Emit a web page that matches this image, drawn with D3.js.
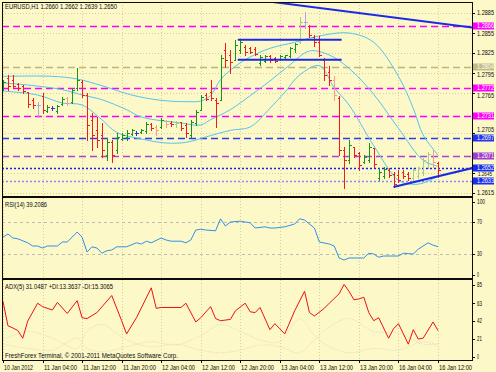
<!DOCTYPE html>
<html>
<head>
<meta charset="utf-8">
<script src="https://cdn.jsdelivr.net/npm/d3@7"></script>
<style>
  body { margin: 0; background: #fdf8c8; }
  svg { display: block; font-family: "Liberation Sans", Arial, sans-serif; }
</style>
</head>
<body>
<div id="chart"></div>
<script>
// EURUSD H1 - bars, bands, RSI(14), ADX(5)

const timeLabels = ["10 Jan 2012", "11 Jan 04:00", "11 Jan 12:00", "11 Jan 20:00", "12 Jan 04:00",
  "12 Jan 12:00", "12 Jan 20:00", "13 Jan 04:00", "13 Jan 12:00", "13 Jan 20:00", "16 Jan 04:00", "16 Jan 12:00"];
const priceTicks = [1.2885, 1.2855, 1.2825, 1.2795, 1.2765, 1.2705, 1.2645, 1.2615];

const levelPrice = [1.2866, 1.2804, 1.2772, 1.2731, 1.2697, 1.2671, 1.2652, 1.2633];
const levelLabel = ["1.2866", "1.2804", "1.2772", "1.2731", "1.2697", "1.2671", "1.2652", "1.2633"];
const levelColor = ["#ff00ff", "#bdb77c", "#ff00ff", "#ff00ff", "#2a3cf0", "#b040d0", "#1020f0", "#8c8cf0"];
const boxColor   = ["#ff00ff", "#c2bc84", "#ff00ff", "#ff00ff", "#2236ee", "#a03ccc", "#1a2cf0", "#1a2cf0"];
const levelDash  = ["7,4", "7,4", "7,4", "7,4", "7,4", "7,4", "2,2", "2,2"];

// OHLC per bar (H1, first bar 10 Jan 20:00)
const open = [1.2771,1.2787,1.2784,1.2778,1.2775,1.2766,1.2754,1.2747,1.2760,1.2738,1.2742,1.2738,1.2748,1.2757,1.2751,1.2772,
  1.2781,1.2762,1.2724,1.2709,1.2702,1.2672,1.2691,1.2679,1.2696,1.2699,1.2703,1.2705,1.2706,1.2708,1.2718,1.2714,
  1.2714,1.2723,1.2720,1.2718,1.2721,1.2717,1.2702,1.2720,1.2739,1.2762,1.2766,1.2754,1.2754,1.2829,1.2822,1.2814,
  1.2829,1.2834,1.2832,1.2831,1.2810,1.2813,1.2820,1.2817,1.2816,1.2819,1.2820,1.2831,1.2841,1.2871,1.2865,1.2849,
  1.2841,1.2814,1.2796,1.2784,1.2757,1.2679,1.2664,1.2684,1.2675,1.2661,1.2664,1.2682,1.2637,1.2640,1.2649,1.2643,
  1.2642,1.2646,1.2643,1.2637,1.2640,1.2646,1.2660,1.2669,1.2660];
const high = [1.2784,1.2792,1.2792,1.2780,1.2777,1.2766,1.2757,1.2751,1.2765,1.2747,1.2745,1.2747,1.2759,1.2759,1.2772,1.2802,
  1.2784,1.2765,1.2735,1.2729,1.2720,1.2697,1.2694,1.2705,1.2705,1.2709,1.2711,1.2708,1.2711,1.2721,1.2720,1.2717,
  1.2727,1.2724,1.2723,1.2723,1.2721,1.2720,1.2724,1.2739,1.2762,1.2765,1.2784,1.2757,1.2822,1.2840,1.2829,1.2844,
  1.2844,1.2837,1.2834,1.2834,1.2822,1.2822,1.2822,1.2819,1.2822,1.2822,1.2834,1.2840,1.2879,1.2886,1.2867,1.2852,
  1.2850,1.2817,1.2805,1.2790,1.2760,1.2684,1.2694,1.2684,1.2676,1.2672,1.2690,1.2682,1.2652,1.2654,1.2652,1.2646,
  1.2649,1.2649,1.2646,1.2652,1.2654,1.2667,1.2676,1.2679,1.2662];
const low = [1.2769,1.2769,1.2772,1.2769,1.2765,1.2744,1.2742,1.2729,1.2735,1.2736,1.2739,1.2735,1.2747,1.2747,1.2750,1.2769,
  1.2759,1.2694,1.2679,1.2684,1.2669,1.2664,1.2661,1.2675,1.2694,1.2694,1.2702,1.2702,1.2705,1.2705,1.2709,1.2702,
  1.2712,1.2714,1.2715,1.2714,1.2709,1.2699,1.2699,1.2717,1.2739,1.2754,1.2754,1.2714,1.2754,1.2804,1.2795,1.2814,
  1.2825,1.2822,1.2825,1.2822,1.2807,1.2811,1.2811,1.2811,1.2814,1.2817,1.2819,1.2826,1.2840,1.2862,1.2849,1.2835,
  1.2820,1.2784,1.2777,1.2754,1.2672,1.2622,1.2660,1.2669,1.2649,1.2660,1.2661,1.2654,1.2634,1.2637,1.2639,1.2624,
  1.2631,1.2637,1.2634,1.2634,1.2637,1.2642,1.2652,1.2654,1.2639];
const close = [1.2781,1.2775,1.2775,1.2772,1.2768,1.2748,1.2747,1.2747,1.2739,1.2744,1.2742,1.2745,1.2756,1.2750,1.2769,1.2784,
  1.2762,1.2717,1.2702,1.2694,1.2679,1.2691,1.2672,1.2699,1.2702,1.2705,1.2709,1.2705,1.2709,1.2718,1.2712,1.2709,
  1.2724,1.2718,1.2718,1.2720,1.2712,1.2705,1.2721,1.2736,1.2759,1.2756,1.2757,1.2750,1.2817,1.2814,1.2811,1.2837,
  1.2841,1.2826,1.2826,1.2823,1.2819,1.2820,1.2814,1.2813,1.2820,1.2822,1.2832,1.2838,1.2871,1.2871,1.2852,1.2841,
  1.2822,1.2792,1.2784,1.2762,1.2679,1.2664,1.2687,1.2672,1.2657,1.2669,1.2684,1.2658,1.2646,1.2651,1.2642,1.2628,
  1.2634,1.2640,1.2637,1.2649,1.2652,1.2664,1.2673,1.2661,1.2650];
const fadedBars = [7, 13, 31, 33, 35, 60, 61, 67, 83, 84, 85, 86, 87];

// Bands: bar index + price at read points
const upBar = [0,10,15,20,26,32,37,40,42,44,47,50,54,59,63,70,75,80,83,85,88];
const upVal = [1.2790,1.2790,1.2786,1.2776,1.2762,1.2754,1.2752,1.2753,1.2761,1.2785,1.2805,1.2819,1.2832,1.2841,1.2849,1.2855,1.2841,1.2790,1.2742,1.2702,1.2672];
const midBar = [0,5,12,16,20,25,28,36,40,42,46,50,54,58,62,66,70,75,80,85,88];
const midVal = [1.2780,1.2777,1.2770,1.2762,1.2755,1.2740,1.2729,1.2720,1.2717,1.2725,1.2740,1.2761,1.2783,1.2807,1.2828,1.2822,1.2802,1.2763,1.2712,1.2664,1.2655];
const lowBar = [0,7,12,16,20,23,28,33,37,41,46,50,54,57,60,64,67,70,75,80,83,85,88];
const lowVal = [1.2768,1.2762,1.2750,1.2747,1.2725,1.2706,1.2696,1.2690,1.2691,1.2699,1.2709,1.2714,1.2742,1.2766,1.2792,1.2806,1.2773,1.2747,1.2686,1.2634,1.2628,1.2630,1.2640];

// RSI(14)
const rsiBar = [0,1,2,3,5,6,7,8,9,11,12,13,15,16,17,18,19,20,21,22,23,25,27,28,29,30,32,33,34,36,37,38,39,40,41,43,44,45,46,48,49,
  50,51,53,54,55,57,59,60,61,63,64,66,67,68,69,70,72,73,74,75,76,77,80,81,83,84,86,87,88];
const rsiVal = [51,55,50,49,44,40,40,37.5,40,40,45,45,57.5,51,32.5,39,37.5,31,34,35,39,39,44,42.5,46,44,50,47.5,46,46,44,47.5,60,61,60,59,74,65,70,71,70,
  69,62.5,64,62.5,62.5,64,67.5,74,72.5,62.5,45,42.5,40,25,22.5,25,25,25,31,30,26,27.5,27.5,31,30,36,44,41,39.2];

// ADX(5), +DI, -DI
const adxBar = [0,1,2,3,4,5,7,8,10,11,13,15,16,17,19,22,24,25,27,30,31,32,36,37,39,40,42,43,44,46,47,49,50,51,52,54,55,56,57,59,61,62,63,65,66,68,69,70,71,72,73,74,75,76,78,79,80,82,83,84,85,87,88];
const adxVal = [65,36.6,34,31,22,42,63,59,55,64,51,66,46,45,52,72,42.5,27,46,81,57,58,58,63,41,46,59,45,42.5,44,54,63,53,52,58,32,39,33,27,54,77,52,48,57,63,74,85,77,67,68,70,52,42.5,46,22,33,39,15,32,21,22,41,31];
const diBar = [0,5,10,15,17,20,25,30,35,40,44,48,52,56,60,63,66,70,75,80,85,88];
const plusDi  = [15,10,8,22,10,6,12,18,14,25,38,30,20,18,45,25,12,5,10,8,18,13.4];
const minusDi = [20,30,22,10,30,38,20,12,15,8,5,8,14,12,5,20,35,45,30,28,15,15.3];

const W = 496, H = 372;
const LEFT = 2, RIGHT = 472;
const MAIN = { top: 2, bottom: 196 };
const RSIP = { top: 198, bottom: 278 };
const ADXP = { top: 280, bottom: 360 };
const INK = "#0c0c0c";

const svg = d3.select("#chart").append("svg").attr("width", W).attr("height", H);
svg.append("rect").attr("width", W).attr("height", H).attr("fill", "#fdf8c8");

const x = d3.scaleLinear().domain([0, 88]).range([3, 438]);
const y = d3.scaleLinear().domain([1.2615, 1.2885]).range([193, 13]);
const yRsi = d3.scaleLinear().domain([0, 100]).range([278, 198]);
const yAdx = d3.scaleLinear().domain([0, 85.5]).range([357, 284]);

svg.append("clipPath").attr("id", "clipMain").append("rect")
  .attr("x", LEFT).attr("y", MAIN.top).attr("width", RIGHT - LEFT).attr("height", MAIN.bottom - MAIN.top);

// grid
const grid = svg.append("g").attr("stroke", "#d6cea0").attr("stroke-dasharray", "1,2");
timeLabels.forEach((t, i) => {
  const gx = Math.round(x(i * 8)) + 0.5;
  [MAIN, RSIP, ADXP].forEach(p => grid.append("line").attr("x1", gx).attr("x2", gx).attr("y1", p.top).attr("y2", p.bottom));
});
priceTicks.forEach(p => {
  const gy = Math.round(y(p)) + 0.5;
  grid.append("line").attr("x1", LEFT).attr("x2", RIGHT).attr("y1", gy).attr("y2", gy);
});

const main = svg.append("g").attr("clip-path", "url(#clipMain)");

levelPrice.forEach((p, i) => {
  const ly = Math.round(y(p)) + 0.5;
  main.append("line").attr("x1", LEFT).attr("x2", RIGHT).attr("y1", ly).attr("y2", ly)
    .attr("stroke", levelColor[i]).attr("stroke-width", 1.3).attr("stroke-dasharray", levelDash[i]);
});

const bandLine = bars => d3.line().x((d, i) => x(bars[i])).y(d => y(d)).curve(d3.curveCatmullRom);
[[upBar, upVal], [midBar, midVal], [lowBar, lowVal]].forEach(([b, v]) => {
  main.append("path").attr("d", bandLine(b)(v)).attr("fill", "none").attr("stroke", "#55c4ee").attr("stroke-width", 1);
});

// bar chart: high-low stick, open tick left, close tick right
const barsG = main.append("g").attr("shape-rendering", "crispEdges");
open.forEach((o, i) => {
  const c = close[i];
  const faded = fadedBars.includes(i);
  let col;
  if (c > o) col = faded ? "#9ed08a" : "#169616";
  else if (c < o) col = faded ? "#f0a090" : "#f21a1a";
  else col = faded ? "#a8a8e8" : "#2830e0";
  const cx = Math.round(x(i)) + 0.5;
  const g = barsG.append("g").attr("stroke", col);
  const yo = Math.round(y(o)) + 0.5, yc = Math.round(y(c)) + 0.5;
  g.append("line").attr("x1", cx).attr("x2", cx).attr("y1", Math.round(y(high[i]))).attr("y2", Math.round(y(low[i])) + 1);
  g.append("line").attr("x1", cx - 2).attr("x2", cx).attr("y1", yo).attr("y2", yo);
  g.append("line").attr("x1", cx).attr("x2", cx + 2).attr("y1", yc).attr("y2", yc);
});

// trend lines (bar index, price)
const trendFrom = [[53, 1.2903], [47.5, 1.2845], [47.5, 1.2815], [79, 1.2624]];
const trendTo   = [[95, 1.2863], [68.5, 1.2845], [68.5, 1.2815], [95, 1.26525]];
trendFrom.forEach((f, i) => {
  main.append("line").attr("x1", x(f[0])).attr("y1", y(f[1])).attr("x2", x(trendTo[i][0])).attr("y2", y(trendTo[i][1]))
    .attr("stroke", "#1a2ae6").attr("stroke-width", 2);
});

// RSI pane
svg.append("g").selectAll("line").data([70, 30]).join("line")
  .attr("x1", LEFT).attr("x2", RIGHT).attr("y1", d => Math.round(yRsi(d)) + 0.5).attr("y2", d => Math.round(yRsi(d)) + 0.5)
  .attr("stroke", "#bcbcb0").attr("stroke-dasharray", "3,3");
svg.append("path").datum(rsiVal)
  .attr("d", d3.line().x((d, i) => x(rsiBar[i])).y(d => yRsi(d)))
  .attr("fill", "none").attr("stroke", "#2e92ea").attr("stroke-width", 1);

// ADX pane
const diLine = d3.line().x((d, i) => x(diBar[i])).y(d => yAdx(d)).curve(d3.curveCatmullRom);
[plusDi, minusDi].forEach(s => {
  svg.append("path").attr("d", diLine(s)).attr("fill", "none")
    .attr("stroke", "#f1e2c2").attr("stroke-width", 1).attr("stroke-dasharray", "2,1");
});
svg.append("path").datum(adxVal)
  .attr("d", d3.line().x((d, i) => x(adxBar[i])).y(d => yAdx(d)))
  .attr("fill", "none").attr("stroke", "#f01010").attr("stroke-width", 1);

// frames
const frame = svg.append("g").attr("fill", "none").attr("stroke", INK);
frame.append("rect").attr("x", LEFT + 0.5).attr("y", MAIN.top + 0.5).attr("width", RIGHT - LEFT).attr("height", ADXP.bottom - MAIN.top);
frame.append("line").attr("x1", LEFT).attr("x2", RIGHT).attr("y1", 197).attr("y2", 197).attr("stroke-width", 2);
frame.append("line").attr("x1", LEFT).attr("x2", RIGHT).attr("y1", 279).attr("y2", 279).attr("stroke-width", 2);

// right axis
const axisText = svg.append("g").attr("font-size", 6.6).attr("fill", INK);
const axisLabel = (ty, txt) => axisText.append("text").attr("x", RIGHT + 5).attr("y", ty + 2.3)
  .attr("textLength", 3 * String(txt).length - 1).attr("lengthAdjust", "spacingAndGlyphs").text(txt);
const levelY = levelPrice.map(p => Math.round(y(p)));
priceTicks.forEach(p => {
  const ty = Math.round(y(p));
  axisText.append("line").attr("x1", RIGHT).attr("x2", RIGHT + 3).attr("y1", ty + 0.5).attr("y2", ty + 0.5).attr("stroke", INK);
  // keep tick text clear of the level boxes around it
  const above = levelY.filter(b => b <= ty && ty - b < 8);
  const below = levelY.filter(b => b > ty && b - ty < 12);
  if (above.length && below.length) {
    const mid = (above[0] + below[0]) / 2;
    axisText.append("text").attr("x", RIGHT + 6).attr("y", mid + 1.6).attr("font-size", 4.6)
      .attr("textLength", 14).attr("lengthAdjust", "spacingAndGlyphs").text(p.toFixed(4));
    return;
  }
  let ly = ty;
  levelY.forEach(b => { if (Math.abs(b - ty) < 8) ly = b < ty ? b + 8 : b - 8; });
  axisLabel(ly, p.toFixed(4));
});
levelPrice.forEach((p, i) => {
  const ty = levelY[i];
  axisText.append("rect").attr("x", RIGHT + 1).attr("y", ty - 3.5).attr("width", 21).attr("height", 7).attr("fill", boxColor[i]);
  axisLabel(ty, levelLabel[i]).attr("fill", "#fff");
});
[[100, 202], [70, yRsi(70)], [30, yRsi(30)], [0, 275]].forEach(([v, ty]) => {
  axisText.append("line").attr("x1", RIGHT).attr("x2", RIGHT + 3).attr("y1", Math.round(ty) + 0.5).attr("y2", Math.round(ty) + 0.5).attr("stroke", INK);
  axisLabel(ty, v);
});
[85, 63, 42, 21, 0].forEach(v => {
  const ty = Math.max(yAdx(v), 285);
  axisText.append("line").attr("x1", RIGHT).attr("x2", RIGHT + 3).attr("y1", Math.round(ty) + 0.5).attr("y2", Math.round(ty) + 0.5).attr("stroke", INK);
  axisLabel(ty, v);
});

// time axis
timeLabels.forEach((t, i) => {
  const tx = Math.round(x(i * 8));
  axisText.append("line").attr("x1", tx + 0.5).attr("x2", tx + 0.5).attr("y1", ADXP.bottom).attr("y2", ADXP.bottom + 3).attr("stroke", INK);
  axisText.append("text").attr("x", tx + 1).attr("y", 369.5).attr("font-size", 7)
    .attr("textLength", i === 0 ? 29 : 33).attr("lengthAdjust", "spacingAndGlyphs").text(t);
});

// captions
const captions = [
  ["EURUSD,H1  1.2660 1.2662 1.2639 1.2650", 9.2, 112],
  ["RSI(14) 39.2086", 206.8, 42],
  ["ADX(5) 31.0487 +DI:13.3637 -DI:15.3065", 289.2, 108],
  ["FreshForex Terminal, \u00a9 2001-2011 MetaQuotes Software Corp.", 358.3, 173]
];
const cap = svg.append("g").attr("font-size", 7).attr("fill", "#0c0c0c");
captions.forEach(([t, ty, w]) => {
  cap.append("text").attr("x", 5).attr("y", ty).attr("textLength", w).attr("lengthAdjust", "spacingAndGlyphs").text(t);
});
</script>
</body>
</html>
